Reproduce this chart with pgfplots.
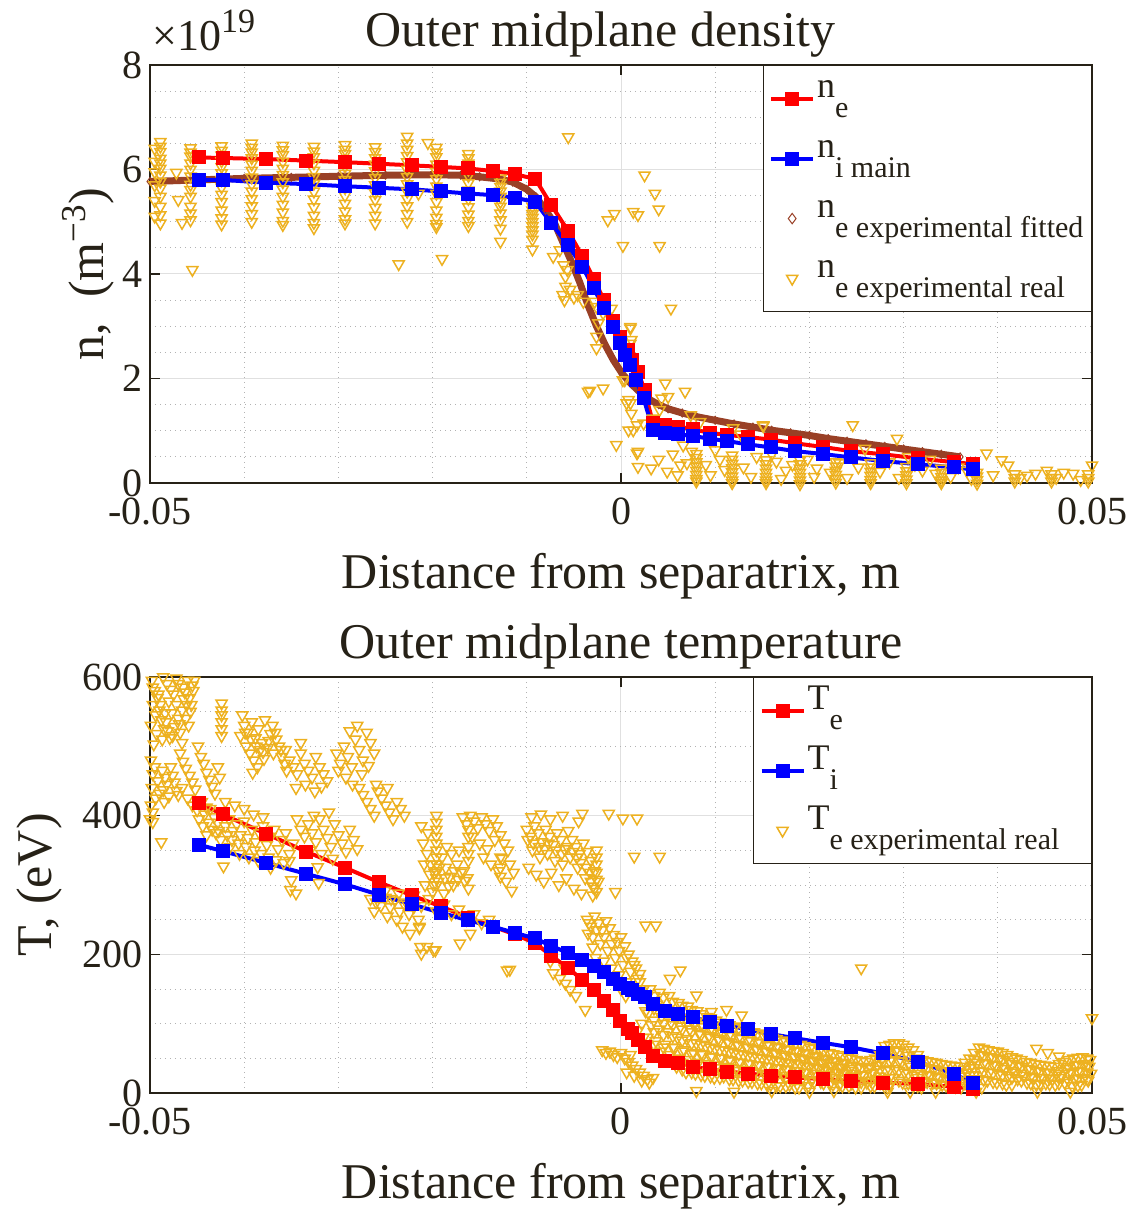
\documentclass[border=0pt]{standalone}
\usepackage{fontspec}
\setmainfont{Liberation Serif}
\usepackage{pgfplots}
\pgfplotsset{compat=1.18}
\definecolor{txt}{rgb}{0.15,0.13,0.09}
\definecolor{orng}{rgb}{0.929,0.694,0.125}
\definecolor{brn}{rgb}{0.6,0.25,0.15}
\newcommand{\sub}[1]{\raisebox{-10pt}{\fontsize{15}{15}\selectfont #1}}
\pgfplotsset{
 myaxis/.style={
  scale only axis, width=471pt,
  xmin=-0.05, xmax=0.05, xtick={-0.05,0,0.05}, xticklabels={-0.05,0,0.05},
  scaled x ticks=false, scaled y ticks=false,
  minor x tick num=4,
  grid=both, major grid style={line width=0.5pt, black!12}, minor grid style={line width=0.5pt, black!30, dotted},
  axis line style={line width=0.8pt, txt},
  tick style={line width=0.8pt, txt}, major tick length=5pt, minor tick length=0pt,
  tick align=inside, xtick pos=both, ytick pos=both, xticklabel pos=lower, yticklabel pos=left,
  ticklabel style={font=\fontsize{20}{20}\selectfont, text=txt},
  xticklabel style={yshift=-4pt},
  /pgf/number format/assume math mode=true,
  label style={font=\fontsize{25}{25}\selectfont, text=txt},
  title style={font=\fontsize{25}{25}\selectfont, text=txt},
  every axis title shift=0pt,
  xlabel style={at={(axis description cs:0.5,0)}, anchor=base, yshift=-52.5pt},
  clip=false,
  legend style={font=\fontsize{18}{18}\selectfont, text=txt, draw=txt, line width=0.6pt, fill=white,
    at={(1,1)}, anchor=north east, cells={anchor=west},
    nodes={inner sep=1pt, text height=13pt, text depth=14pt}, row sep=1pt, inner xsep=3pt, inner ysep=2pt},
  legend image code/.code={\draw[mark repeat=2,mark phase=2,#1] plot coordinates {(0pt,0pt) (10.5pt,0pt) (21pt,0pt)};},
 },
 ln/.style={line width=2pt, mark=square*, mark size=2.5pt, mark options={solid}},
 sc/.style={only marks, mark=triangle, mark size=3.2pt, orng, mark options={rotate=180, line width=0.75pt, fill=none}},
}
\begin{document}
\begin{tikzpicture}
\path[use as bounding box] (-75pt,241.5pt) rectangle (493pt,-365pt);
% ---------------- top axis
\begin{axis}[myaxis, at={(0pt,0pt)}, anchor=south west, height=209pt,
  ymin=0, ymax=8, ytick={0,2,4,6,8}, minor y tick num=3,
  xlabel={Distance from separatrix, m},
  ylabel={n,\ \ (m\textsuperscript{−3})},
  ylabel style={at={(axis description cs:-0.0658,0.5)}, anchor=center},
  title={Outer midplane density},
  title style={at={(axis description cs:0.478,1)}, anchor=base, yshift=9pt},
]
% fitted
\addplot[forget plot, brn, line width=3.5pt, mark=diamond, mark size=2pt, mark options={line width=0.5pt}] coordinates {
(-0.0500,5.77)(-0.0450,5.80)(-0.0400,5.83)(-0.0350,5.85)(-0.0300,5.87)(-0.0250,5.89)(-0.0200,5.90)(-0.0170,5.89)(-0.0150,5.86)(-0.0130,5.82)(-0.0115,5.76)(-0.0100,5.62)(-0.0090,5.47)(-0.0080,5.22)(-0.0070,4.95)(-0.0062,4.62)(-0.0053,4.25)(-0.0044,3.85)(-0.0035,3.40)(-0.0026,3.00)(-0.0017,2.65)(-0.0008,2.35)(0.0001,2.10)(0.0010,1.91)(0.0020,1.74)(0.0030,1.60)(0.0040,1.50)(0.0050,1.42)(0.0065,1.34)(0.0080,1.27)(0.0100,1.20)(0.0120,1.13)(0.0140,1.07)(0.0160,1.01)(0.0180,0.96)(0.0200,0.91)(0.0220,0.85)(0.0240,0.80)(0.0260,0.75)(0.0280,0.70)(0.0300,0.65)(0.0320,0.60)(0.0340,0.55)(0.0360,0.50)
};
% real
\addplot[forget plot, sc] coordinates {
(-0.0489,6.53)(-0.0489,6.44)(-0.0489,6.34)(-0.0489,6.21)(-0.0489,6.12)(-0.0489,6.02)(-0.0489,5.89)(-0.0489,5.77)(-0.0489,5.64)(-0.0489,5.48)(-0.0489,5.29)(-0.0489,5.13)(-0.0489,4.97)
(-0.0495,6.40)(-0.0495,6.15)(-0.0495,5.95)(-0.0495,5.70)(-0.0495,5.40)(-0.0495,5.10)
(-0.0457,6.41)(-0.0457,6.33)(-0.0457,6.25)(-0.0457,6.12)(-0.0457,6.00)(-0.0457,5.87)(-0.0457,5.71)(-0.0457,5.61)(-0.0457,5.48)(-0.0457,5.29)(-0.0457,5.16)(-0.0457,5.03)
(-0.0455,4.08)(-0.0472,5.94)(-0.0470,5.42)(-0.0466,4.98)
(-0.0424,6.45)(-0.0424,6.36)(-0.0424,6.27)(-0.0424,6.16)(-0.0424,6.05)(-0.0424,5.93)(-0.0424,5.80)(-0.0424,5.66)(-0.0424,5.52)(-0.0424,5.38)(-0.0424,5.22)(-0.0424,5.07)(-0.0424,4.95)
(-0.0392,6.50)(-0.0392,6.42)(-0.0392,6.33)(-0.0392,6.22)(-0.0392,6.10)(-0.0392,5.98)(-0.0392,5.85)(-0.0392,5.72)(-0.0392,5.58)(-0.0392,5.44)(-0.0392,5.30)(-0.0392,5.15)(-0.0392,5.00)
(-0.0359,6.46)(-0.0359,6.37)(-0.0359,6.28)(-0.0359,6.15)(-0.0359,6.02)(-0.0359,5.90)(-0.0359,5.76)(-0.0359,5.62)(-0.0359,5.48)(-0.0359,5.33)(-0.0359,5.18)(-0.0359,5.02)(-0.0359,4.94)
(-0.0326,6.44)(-0.0326,6.35)(-0.0326,6.24)(-0.0326,6.12)(-0.0326,5.98)(-0.0326,5.86)(-0.0326,5.73)(-0.0326,5.58)(-0.0326,5.43)(-0.0326,5.28)(-0.0326,5.12)(-0.0326,4.98)(-0.0326,4.88)
(-0.0293,6.47)(-0.0293,6.38)(-0.0293,6.30)(-0.0293,6.18)(-0.0293,6.06)(-0.0293,5.92)(-0.0293,5.80)(-0.0293,5.65)(-0.0293,5.50)(-0.0293,5.35)(-0.0293,5.20)(-0.0293,5.05)(-0.0293,4.97)
(-0.0261,6.43)(-0.0261,6.34)(-0.0261,6.22)(-0.0261,6.10)(-0.0261,5.97)(-0.0261,5.84)(-0.0261,5.70)(-0.0261,5.55)(-0.0261,5.42)(-0.0261,5.27)(-0.0261,5.12)(-0.0261,4.97)
(-0.0227,6.63)(-0.0227,6.50)(-0.0227,6.38)(-0.0227,6.26)(-0.0227,6.14)(-0.0227,6.00)(-0.0227,5.86)(-0.0227,5.72)(-0.0227,5.58)(-0.0227,5.44)(-0.0227,5.30)(-0.0227,5.15)(-0.0227,5.00)
(-0.0236,4.19)(-0.0205,6.51)(-0.0215,5.54)
(-0.0196,6.42)(-0.0196,6.33)(-0.0196,6.24)(-0.0196,6.10)(-0.0196,5.96)(-0.0196,5.82)(-0.0196,5.68)(-0.0196,5.54)(-0.0196,5.38)(-0.0196,5.22)(-0.0196,5.08)(-0.0196,4.96)(-0.0196,4.90)(-0.0190,4.29)
(-0.0162,6.30)(-0.0162,6.22)(-0.0162,6.12)(-0.0162,6.00)(-0.0162,5.88)(-0.0162,5.74)(-0.0162,5.60)(-0.0162,5.44)(-0.0162,5.28)(-0.0162,5.14)(-0.0162,5.02)(-0.0162,4.92)
(-0.0128,5.83)(-0.0128,5.75)(-0.0128,5.67)(-0.0128,5.58)(-0.0128,5.48)(-0.0128,5.38)(-0.0128,5.29)(-0.0128,5.16)(-0.0128,5.03)(-0.0128,4.87)(-0.0128,4.62)
(-0.0094,5.29)(-0.0094,5.22)(-0.0094,5.15)(-0.0094,5.08)(-0.0094,5.00)(-0.0094,4.92)(-0.0094,4.84)(-0.0094,4.76)(-0.0094,4.66)(-0.0094,4.47)
(-0.0072,4.33)(-0.0065,4.46)(-0.0061,4.17)(-0.0059,3.95)(-0.0059,3.76)(-0.0057,4.08)(-0.0062,3.60)(-0.0060,3.50)(-0.0054,3.70)(-0.0050,3.55)(-0.0046,3.60)(-0.0040,3.47)
(-0.0028,3.47)(-0.0019,3.25)(-0.0008,2.99)(-0.0026,2.58)(-0.0026,3.37)(-0.0024,3.06)(-0.0026,2.80)(-0.0010,3.34)(0.0010,2.96)(0.0010,2.67)(0.0011,2.74)(0.0010,2.99)
(0.0004,1.97)(0.0002,1.97)(0.0008,1.59)(0.0010,1.53)(0.0011,1.33)(0.0008,1.01)(0.0013,1.01)(0.0017,1.11)(0.0024,1.14)(0.0034,1.24)(0.0041,1.40)(0.0043,1.62)(0.0050,1.65)
(-0.0035,1.75)(-0.0033,1.77)(-0.0019,1.81)(-0.0005,0.73)(0.0047,1.91)(0.0068,1.75)(0.0074,1.30)(0.0151,1.09)(0.0017,0.57)(0.0018,0.31)(0.0006,1.53)
(-0.0056,6.62)(0.0025,5.89)(0.0036,5.54)(0.0040,5.24)(-0.0014,5.03)(-0.0007,5.15)(0.0013,5.19)(0.0018,5.13)(0.0002,4.54)(0.0041,4.54)(0.0053,3.34)
(0.0080,0.56)(0.0080,0.48)(0.0080,0.40)(0.0080,0.32)(0.0080,0.24)(0.0080,0.16)(0.0080,0.08)(0.0080,0.03)
(0.0118,0.53)(0.0118,0.45)(0.0118,0.37)(0.0118,0.29)(0.0118,0.21)(0.0118,0.13)(0.0118,0.05)(0.0118,0.00)
(0.0154,0.44)(0.0154,0.36)(0.0154,0.28)(0.0154,0.20)(0.0154,0.12)(0.0154,0.05)(0.0154,0.00)
(0.0190,0.44)(0.0190,0.36)(0.0190,0.28)(0.0190,0.20)(0.0190,0.12)(0.0190,0.05)(0.0190,-0.02)
(0.0228,0.40)(0.0228,0.32)(0.0228,0.24)(0.0228,0.16)(0.0228,0.08)(0.0228,0.01)
(0.0265,0.38)(0.0265,0.30)(0.0265,0.22)(0.0265,0.14)(0.0265,0.06)(0.0265,0.00)
(0.0303,0.31)(0.0303,0.23)(0.0303,0.15)(0.0303,0.07)(0.0303,0.00)
(0.0340,0.28)(0.0340,0.20)(0.0340,0.12)(0.0340,0.05)(0.0340,0.00)
(0.0378,0.20)(0.0378,0.13)(0.0378,0.06)(0.0378,-0.01)
(0.0418,0.17)(0.0418,0.10)(0.0418,0.03)
(0.0457,0.17)(0.0457,0.10)(0.0457,0.03)
(0.0496,0.17)(0.0496,0.10)(0.0496,0.03)
(0.0018,0.60)(0.0032,0.28)(0.0049,0.22)(0.0063,0.34)(0.0070,0.38)(0.0084,1.17)(0.0100,0.63)(0.0119,1.05)(0.0127,0.93)(0.0144,0.50)(0.0151,1.11)(0.0165,0.41)(0.0175,0.24)(0.0208,0.28)(0.0232,0.38)(0.0246,1.11)(0.0259,0.66)(0.0293,0.85)(0.0305,0.50)(0.0320,0.24)(0.0334,0.18)(0.0367,0.24)(0.0388,0.57)(0.0404,0.44)(0.0411,0.34)(0.0424,0.10)(0.0431,0.14)(0.0452,0.24)(0.0470,0.20)(0.0480,0.18)(0.0500,0.34)
(0.0040,0.45)(0.0055,0.55)(0.0060,0.15)(0.0066,0.72)(0.0075,0.60)(0.0090,0.35)(0.0095,0.15)(0.0105,0.45)(0.0110,0.25)(0.0130,0.30)(0.0138,0.12)(0.0160,0.55)(0.0170,0.08)(0.0182,0.35)(0.0198,0.45)(0.0205,0.12)(0.0215,0.58)(0.0222,0.20)(0.0240,0.10)(0.0252,0.30)(0.0275,0.22)(0.0285,0.40)(0.0295,0.10)(0.0312,0.35)(0.0328,0.45)(0.0350,0.12)(0.0358,0.30)(0.0372,0.08)(0.0395,0.15)(0.0440,0.18)(0.0462,0.10)(0.0488,0.06)
};
% ne
\addplot[forget plot, red, ln] coordinates {
(-0.0448,6.23)(-0.0423,6.22)(-0.0377,6.20)(-0.0334,6.17)(-0.0293,6.14)(-0.0257,6.11)(-0.0222,6.08)(-0.0191,6.05)(-0.0162,6.02)(-0.0136,5.97)(-0.0113,5.91)(-0.0091,5.82)(-0.0074,5.32)(-0.0056,4.82)(-0.0041,4.34)(-0.0029,3.91)(-0.0018,3.50)(-0.0009,3.10)(-0.0001,2.80)(0.0007,2.55)(0.0012,2.35)(0.0018,2.13)(0.0025,1.78)(0.0034,1.14)(0.0047,1.11)(0.0061,1.08)(0.0076,1.03)(0.0094,0.96)(0.0113,0.92)(0.0135,0.88)(0.0159,0.83)(0.0185,0.76)(0.0214,0.69)(0.0244,0.61)(0.0278,0.55)(0.0315,0.47)(0.0353,0.40)(0.0374,0.36)
};
% ni
\addplot[forget plot, blue, ln] coordinates {
(-0.0448,5.80)(-0.0423,5.80)(-0.0377,5.75)(-0.0334,5.72)(-0.0293,5.68)(-0.0257,5.65)(-0.0222,5.62)(-0.0191,5.58)(-0.0162,5.54)(-0.0136,5.51)(-0.0113,5.46)(-0.0091,5.38)(-0.0074,4.97)(-0.0056,4.55)(-0.0041,4.14)(-0.0029,3.73)(-0.0018,3.34)(-0.0009,2.98)(-0.0001,2.67)(0.0004,2.45)(0.0010,2.26)(0.0016,1.97)(0.0024,1.62)(0.0034,1.01)(0.0047,0.96)(0.0061,0.93)(0.0076,0.90)(0.0094,0.85)(0.0113,0.80)(0.0135,0.74)(0.0159,0.68)(0.0185,0.61)(0.0214,0.555)(0.0244,0.49)(0.0278,0.42)(0.0315,0.36)(0.0353,0.30)(0.0374,0.26)
};
\addlegendimage{red, ln}
\addlegendentry{n\sub{e}}
\addlegendimage{blue, ln}
\addlegendentry{n\sub{i main}}
\addlegendimage{only marks, brn, mark=diamond, mark size=2.6pt, mark options={line width=0.5pt}}
\addlegendentry{n\sub{e experimental fitted}}
\addlegendimage{sc}
\addlegendentry{n\sub{e experimental real}}
\node[anchor=base west, text=txt, font=\fontsize{22}{22}\selectfont, inner sep=0pt] at ([xshift=1pt, yshift=7pt]axis description cs:0,1) {×10\raisebox{9pt}{\fontsize{17}{17}\selectfont 19}};
\end{axis}
% ---------------- bottom axis
\begin{axis}[myaxis, at={(0pt,-305pt)}, anchor=south west, height=208pt,
  ymin=0, ymax=600, ytick={0,200,400,600}, minor y tick num=3,
  xlabel={Distance from separatrix, m},
  ylabel={T, (eV)},
  ylabel style={at={(axis description cs:-0.1168,0.5)}, anchor=center},
  title={Outer midplane temperature},
  title style={at={(axis description cs:0.5,1)}, anchor=base, yshift=9.5pt},
]
\addplot[forget plot, sc] coordinates {
(-0.0498,595)(-0.0495,580)(-0.0492,570)(-0.0497,560)(-0.0490,552)(-0.0494,545)(-0.0488,538)(-0.0499,530)(-0.0485,525)(-0.0493,518)(-0.0487,510)(-0.0496,503)(-0.0482,590)(-0.0478,582)(-0.0475,575)(-0.0480,565)(-0.0472,560)(-0.0477,548)(-0.0470,540)(-0.0483,535)(-0.0474,528)(-0.0468,520)(-0.0479,512)(-0.0466,505)(-0.0470,590)(-0.0465,585)(-0.0460,595)(-0.0463,578)(-0.0458,570)(-0.0455,588)(-0.0461,560)(-0.0454,580)(-0.0457,550)(-0.0462,540)(-0.0459,530)(-0.0466,552)(-0.0472,598)(-0.0486,600)
(-0.0497,585)(-0.0491,575)(-0.0489,560)(-0.0484,548)(-0.0481,522)(-0.0476,515)(-0.0469,532)(-0.0464,568)(-0.0456,560)(-0.0453,595)
(-0.0499,480)(-0.0495,470)(-0.0497,460)(-0.0492,450)(-0.0498,440)(-0.0490,432)(-0.0494,425)(-0.0499,415)(-0.0487,465)(-0.0484,455)(-0.0482,445)(-0.0486,437)(-0.0480,428)(-0.0478,470)(-0.0476,458)(-0.0474,448)(-0.0472,436)(-0.0497,405)(-0.0500,395)(-0.0485,420)(-0.0488,362)(-0.0497,391)
(-0.0424,562)(-0.0424,552)(-0.0424,545)(-0.0424,535)(-0.0424,525)(-0.0424,515)
(-0.0468,490)(-0.0465,478)(-0.0462,468)(-0.0458,458)(-0.0455,448)(-0.0452,438)(-0.0449,500)(-0.0446,485)(-0.0443,475)(-0.0440,462)(-0.0437,452)(-0.0434,442)(-0.0431,432)(-0.0428,470)(-0.0426,455)(-0.0460,425)(-0.0455,415)(-0.0450,408)(-0.0445,420)(-0.0440,412)(-0.0466,440)(-0.0470,430)
(-0.0448,395)(-0.0442,402)(-0.0438,390)(-0.0434,380)(-0.0427,378)(-0.0418,372)(-0.0413,365)(-0.0406,360)(-0.0398,355)(-0.0389,350)(-0.0382,345)(-0.0374,340)(-0.0366,336)(-0.0358,332)
(-0.0400,530)(-0.0396,520)(-0.0392,535)(-0.0388,512)(-0.0385,525)(-0.0381,505)(-0.0378,538)(-0.0375,498)(-0.0372,518)(-0.0369,490)(-0.0366,510)(-0.0363,500)(-0.0360,485)(-0.0357,475)(-0.0398,500)(-0.0394,490)(-0.0390,480)(-0.0386,470)(-0.0383,495)(-0.0379,482)(-0.0404,515)(-0.0402,545)(-0.0370,530)(-0.0355,465)(-0.0391,462)
(-0.0399,520)(-0.0393,510)(-0.0387,500)(-0.0380,492)(-0.0374,508)(-0.0367,520)(-0.0361,495)
(-0.0436,410)(-0.0432,398)(-0.0428,390)(-0.0424,405)(-0.0420,385)(-0.0416,395)(-0.0412,378)(-0.0408,388)(-0.0404,372)(-0.0400,392)(-0.0396,368)(-0.0392,380)(-0.0388,362)(-0.0384,375)(-0.0380,385)(-0.0376,358)(-0.0372,370)(-0.0368,380)(-0.0364,352)(-0.0360,365)(-0.0356,375)(-0.0352,345)(-0.0348,360)(-0.0430,375)(-0.0425,365)(-0.0415,355)(-0.0405,345)(-0.0395,340)(-0.0385,335)(-0.0372,325)(-0.0420,420)(-0.0410,415)(-0.0400,410)(-0.0390,402)(-0.0380,398)(-0.0444,385)(-0.0440,372)
(-0.0356,495)(-0.0352,480)(-0.0348,470)(-0.0344,460)(-0.0340,490)(-0.0336,475)(-0.0332,465)(-0.0328,455)(-0.0324,485)(-0.0320,470)(-0.0316,460)(-0.0312,450)(-0.0345,440)(-0.0335,445)(-0.0325,435)(-0.0318,442)(-0.0340,505)
(-0.0302,490)(-0.0298,475)(-0.0294,500)(-0.0290,485)(-0.0286,470)(-0.0282,510)(-0.0278,495)(-0.0274,480)(-0.0270,520)(-0.0266,505)(-0.0262,490)(-0.0292,455)(-0.0285,445)(-0.0275,460)(-0.0268,472)(-0.0300,465)(-0.0288,522)(-0.0280,530)
(-0.0344,395)(-0.0340,380)(-0.0336,370)(-0.0332,388)(-0.0328,375)(-0.0324,362)(-0.0320,395)(-0.0316,380)(-0.0312,368)(-0.0308,355)(-0.0304,388)(-0.0300,372)(-0.0296,360)(-0.0292,348)(-0.0288,380)(-0.0284,365)(-0.0280,352)(-0.0330,350)(-0.0318,345)(-0.0306,338)(-0.0326,400)(-0.0310,405)
(-0.0422,327)(-0.0350,307)(-0.0351,293)(-0.0345,288)(-0.0322,326)(-0.0321,303)(-0.0352,335)(-0.0212,201)(-0.0199,206)(-0.0206,211)(-0.0171,216)(-0.0224,230)(-0.0214,240)
(-0.0278,440)(-0.0274,430)(-0.0270,420)(-0.0266,410)(-0.0262,400)(-0.0258,435)(-0.0254,425)(-0.0250,415)(-0.0246,405)(-0.0242,395)(-0.0238,420)(-0.0234,410)(-0.0230,400)(-0.0260,445)(-0.0248,440)
(-0.0266,280)(-0.0260,275)(-0.0255,270)(-0.0250,282)(-0.0245,268)(-0.0240,278)(-0.0235,262)(-0.0230,272)(-0.0225,258)(-0.0220,268)(-0.0215,250)(-0.0262,262)(-0.0248,255)(-0.0238,250)
(-0.0196,400)(-0.0196,390)(-0.0196,380)(-0.0196,370)(-0.0196,360)(-0.0196,350)(-0.0196,340)(-0.0196,330)(-0.0196,320)(-0.0196,310)(-0.0196,300)
(-0.0210,360)(-0.0206,345)(-0.0202,330)(-0.0198,318)(-0.0194,305)(-0.0190,340)(-0.0186,325)(-0.0182,312)(-0.0178,300)(-0.0174,330)(-0.0170,318)(-0.0166,306)(-0.0162,295)(-0.0208,300)(-0.0200,290)(-0.0188,288)(-0.0180,345)(-0.0172,350)(-0.0185,355)(-0.0205,375)(-0.0212,385)
(-0.0209,330)(-0.0203,315)(-0.0199,300)(-0.0193,325)(-0.0187,310)(-0.0183,298)(-0.0177,320)(-0.0173,308)(-0.0167,320)(-0.0163,310)
(-0.0168,398)(-0.0164,388)(-0.0160,400)(-0.0156,392)(-0.0152,382)(-0.0148,398)(-0.0144,388)(-0.0140,378)(-0.0136,395)(-0.0132,385)(-0.0128,372)(-0.0124,360)(-0.0120,350)(-0.0158,370)(-0.0150,360)(-0.0142,352)(-0.0134,365)(-0.0146,340)(-0.0138,330)(-0.0130,320)(-0.0126,338)(-0.0118,330)(-0.0114,318)(-0.0122,305)(-0.0116,292)
(-0.0162,380)(-0.0162,370)(-0.0162,355)(-0.0162,345)(-0.0162,335)(-0.0128,340)(-0.0128,325)(-0.0128,312)
(-0.0100,380)(-0.0096,370)(-0.0092,385)(-0.0088,375)(-0.0084,362)(-0.0080,380)(-0.0076,370)(-0.0072,358)(-0.0068,375)(-0.0064,365)(-0.0060,352)(-0.0056,378)(-0.0052,365)(-0.0048,355)(-0.0044,345)(-0.0040,360)(-0.0036,348)(-0.0032,335)(-0.0028,320)(-0.0024,305)(-0.0094,350)(-0.0086,340)(-0.0078,345)(-0.0070,335)(-0.0062,330)(-0.0054,340)(-0.0046,325)(-0.0038,310)(-0.0030,298)(-0.0026,290)(-0.0098,325)(-0.0090,315)(-0.0082,305)(-0.0074,318)(-0.0066,300)(-0.0058,310)(-0.0050,295)(-0.0042,288)
(-0.0099,365)(-0.0093,360)(-0.0087,355)(-0.0081,352)(-0.0077,360)(-0.0069,350)(-0.0063,345)(-0.0057,355)(-0.0051,348)(-0.0047,340)(-0.0043,332)(-0.0037,325)(-0.0033,318)
(-0.0095,398)(-0.0085,402)(-0.0075,395)(-0.0062,400)(-0.0045,392)
(-0.0026,350)(-0.0026,340)(-0.0026,330)(-0.0026,318)(-0.0026,308)
(-0.0250,292)(-0.0244,280)(-0.0236,288)(-0.0228,275)(-0.0220,285)(-0.0212,270)(-0.0204,280)(-0.0196,262)(-0.0188,272)(-0.0180,258)(-0.0172,265)(-0.0164,250)(-0.0156,258)(-0.0148,245)(-0.0140,250)(-0.0232,240)(-0.0214,238)
(-0.0213,211)(-0.0197,206)(-0.0160,230)(-0.0121,177)(-0.0118,178)
(-0.0036,250)(-0.0032,240)(-0.0028,255)(-0.0024,245)(-0.0020,235)(-0.0016,248)(-0.0012,238)(-0.0008,228)(-0.0004,218)(0.0000,225)(0.0004,212)(0.0008,200)(0.0012,190)(0.0016,180)(0.0020,172)(-0.0030,225)(-0.0022,215)(-0.0014,205)(-0.0006,195)(0.0002,185)(0.0010,175)(0.0018,165)(-0.0018,190)(-0.0010,180)(-0.0002,170)(0.0006,160)(0.0014,150)(0.0022,142)
(-0.0034,245)(-0.0026,235)(-0.0018,225)(-0.0010,215)(-0.0002,205)(0.0006,195)(0.0014,185)(0.0020,160)(0.0024,150)(0.0028,140)(0.0030,128)(0.0026,118)(0.0022,100)(0.0018,90)(0.0024,80)(0.0028,70)
(-0.0035,230)(-0.0030,210)(-0.0027,195)(-0.0032,185)(-0.0032,305)(-0.0028,295)(-0.0030,285)(0.0000,150)(0.0005,140)(-0.0004,160)
(-0.0072,173)(-0.0065,165)(-0.0054,149)(-0.0048,140)(-0.0038,120)(-0.0075,190)(-0.0060,180)(-0.0059,158)
(-0.0041,403)(-0.0013,403)(0.0002,396)(0.0017,396)(0.0014,341)(0.0041,341)(0.0026,242)(0.0037,242)(-0.0006,290)
(-0.0020,62)(-0.0016,58)(-0.0012,60)(-0.0008,55)(-0.0004,52)(0.0000,58)(0.0004,50)(0.0008,45)(0.0012,40)(0.0016,35)(0.0020,30)(0.0024,25)(0.0028,20)(0.0006,30)(0.0014,25)(0.0022,18)(0.0030,15)(0.0034,22)(0.0010,55)
(0.0063,177)(0.0052,165)(0.0080,141)(0.0096,117)(0.0112,120)(0.0128,112)
(0.0031,150)(0.0034,132)(0.0029,115)(0.0032,98)(0.0028,80)
(0.0041,145)(0.0038,128)(0.0043,110)(0.0040,92)(0.0037,75)(0.0042,60)
(0.0051,140)(0.0048,120)(0.0053,102)(0.0050,88)(0.0047,70)(0.0052,55)
(0.0061,130)(0.0058,112)(0.0063,96)(0.0060,80)(0.0057,65)(0.0062,50)(0.0059,38)
(0.0071,125)(0.0068,108)(0.0073,92)(0.0070,78)(0.0067,62)(0.0072,48)(0.0069,30)
(0.0081,118)(0.0078,100)(0.0083,86)(0.0080,72)(0.0077,58)(0.0082,44)(0.0079,28)
(0.0091,110)(0.0088,95)(0.0093,82)(0.0090,68)(0.0087,55)(0.0092,42)(0.0089,25)
(0.0101,105)(0.0098,90)(0.0103,78)(0.0100,64)(0.0097,52)(0.0102,40)(0.0099,22)
(0.0111,100)(0.0108,86)(0.0113,74)(0.0110,62)(0.0107,50)(0.0112,38)(0.0109,24)
(0.0121,96)(0.0118,82)(0.0123,70)(0.0120,58)(0.0117,46)(0.0122,35)(0.0119,20)
(0.0131,92)(0.0128,78)(0.0133,66)(0.0130,55)(0.0127,44)(0.0132,33)(0.0129,18)
(0.0141,88)(0.0138,75)(0.0143,64)(0.0140,52)(0.0137,42)(0.0142,30)(0.0139,16)
(0.0151,84)(0.0148,72)(0.0153,60)(0.0150,50)(0.0147,40)(0.0152,28)(0.0149,14)
(0.0161,80)(0.0158,68)(0.0163,58)(0.0160,48)(0.0157,38)(0.0162,26)(0.0159,12)
(0.0171,76)(0.0168,65)(0.0173,55)(0.0170,45)(0.0167,36)(0.0172,25)(0.0169,10)
(0.0181,72)(0.0178,62)(0.0183,52)(0.0180,43)(0.0177,34)(0.0182,22)(0.0179,12)
(0.0191,70)(0.0188,60)(0.0193,50)(0.0190,42)(0.0187,32)(0.0192,20)(0.0189,8)
(0.0201,66)(0.0198,56)(0.0203,47)(0.0200,38)(0.0197,30)(0.0202,18)(0.0199,10)
(0.0211,62)(0.0208,52)(0.0213,44)(0.0210,36)(0.0207,28)(0.0212,16)
(0.0221,58)(0.0218,48)(0.0223,40)(0.0220,32)(0.0217,24)(0.0222,14)
(0.0231,55)(0.0228,45)(0.0233,37)(0.0230,30)(0.0227,22)(0.0232,12)
(0.0241,52)(0.0238,42)(0.0243,35)(0.0240,28)(0.0237,20)(0.0242,10)
(0.0250,48)(0.0252,38)(0.0248,28)(0.0251,18)(0.0249,8)
(0.0260,45)(0.0262,35)(0.0258,25)(0.0261,15)
(0.0270,50)(0.0272,40)(0.0268,30)(0.0271,20)(0.0269,10)
(0.0280,68)(0.0282,58)(0.0278,45)(0.0281,32)(0.0279,20)(0.0283,8)
(0.0290,72)(0.0292,62)(0.0288,48)(0.0291,35)(0.0289,22)
(0.0300,70)(0.0302,58)(0.0298,45)(0.0301,30)(0.0299,15)
(0.0310,62)(0.0312,50)(0.0308,38)(0.0311,25)(0.0309,12)
(0.0320,48)(0.0322,38)(0.0318,28)(0.0321,18)(0.0319,8)
(0.0330,45)(0.0332,35)(0.0328,25)(0.0331,15)
(0.0340,42)(0.0342,32)(0.0338,22)(0.0341,12)
(0.0350,40)(0.0352,30)(0.0348,20)(0.0351,10)
(0.0360,38)(0.0362,28)(0.0358,18)(0.0361,8)
(0.0370,50)(0.0372,40)(0.0368,30)(0.0371,20)(0.0369,10)
(0.0380,66)(0.0382,55)(0.0378,44)(0.0381,32)(0.0379,20)(0.0383,8)
(0.0390,62)(0.0392,52)(0.0388,42)(0.0391,30)(0.0389,18)
(0.0400,60)(0.0402,50)(0.0398,40)(0.0401,28)(0.0399,15)
(0.0410,55)(0.0412,45)(0.0408,35)(0.0411,25)(0.0409,12)
(0.0420,50)(0.0422,40)(0.0418,30)(0.0421,20)
(0.0430,45)(0.0432,35)(0.0428,25)(0.0431,15)
(0.0440,42)(0.0442,32)(0.0438,22)(0.0441,12)
(0.0450,40)(0.0452,30)(0.0448,22)(0.0451,14)
(0.0460,38)(0.0462,28)(0.0458,20)(0.0461,12)
(0.0470,45)(0.0472,35)(0.0468,25)(0.0471,15)
(0.0480,50)(0.0482,40)(0.0478,30)(0.0481,20)(0.0479,10)
(0.0490,52)(0.0492,42)(0.0488,32)(0.0491,22)(0.0489,12)
(0.0498,48)(0.0497,38)(0.0499,28)(0.0496,18)
(0.0035,140)(0.0035,122)(0.0035,105)(0.0035,88)(0.0035,70)
(0.0045,138)(0.0045,118)(0.0045,100)(0.0045,84)(0.0045,66)(0.0045,50)
(0.0055,132)(0.0055,115)(0.0055,98)(0.0055,82)(0.0055,66)(0.0055,48)
(0.0065,126)(0.0065,108)(0.0065,92)(0.0065,76)(0.0065,60)(0.0065,44)(0.0065,34)
(0.0075,120)(0.0075,104)(0.0075,88)(0.0075,72)(0.0075,56)(0.0075,40)(0.0075,30)
(0.0085,114)(0.0085,98)(0.0085,84)(0.0085,70)(0.0085,56)(0.0085,40)(0.0085,26)
(0.0095,108)(0.0095,92)(0.0095,80)(0.0095,66)(0.0095,52)(0.0095,38)(0.0095,24)
(0.0105,102)(0.0105,88)(0.0105,76)(0.0105,62)(0.0105,50)(0.0105,36)(0.0105,22)
(0.0115,98)(0.0115,84)(0.0115,72)(0.0115,60)(0.0115,48)(0.0115,36)(0.0115,20)
(0.0125,94)(0.0125,80)(0.0125,68)(0.0125,56)(0.0125,44)(0.0125,32)(0.0125,18)
(0.0135,90)(0.0135,76)(0.0135,65)(0.0135,54)(0.0135,42)(0.0135,30)(0.0135,16)
(0.0145,86)(0.0145,73)(0.0145,62)(0.0145,51)(0.0145,40)(0.0145,28)(0.0145,14)
(0.0155,82)(0.0155,70)(0.0155,59)(0.0155,49)(0.0155,38)(0.0155,26)(0.0155,12)
(0.0165,78)(0.0165,67)(0.0165,56)(0.0165,46)(0.0165,36)(0.0165,24)(0.0165,10)
(0.0175,74)(0.0175,63)(0.0175,53)(0.0175,44)(0.0175,34)(0.0175,22)(0.0175,10)
(0.0185,71)(0.0185,61)(0.0185,51)(0.0185,42)(0.0185,32)(0.0185,20)(0.0185,8)
(0.0195,68)(0.0195,58)(0.0195,48)(0.0195,40)(0.0195,30)(0.0195,18)
(0.0205,64)(0.0205,54)(0.0205,45)(0.0205,36)(0.0205,28)(0.0205,16)
(0.0215,60)(0.0215,50)(0.0215,42)(0.0215,34)(0.0215,26)(0.0215,14)
(0.0225,56)(0.0225,46)(0.0225,38)(0.0225,30)(0.0225,22)(0.0225,12)
(0.0235,53)(0.0235,44)(0.0235,36)(0.0235,28)(0.0235,20)(0.0235,10)
(0.0245,50)(0.0245,40)(0.0245,32)(0.0245,24)(0.0245,14)
(0.0255,46)(0.0255,36)(0.0255,26)(0.0255,16)(0.0255,8)
(0.0265,48)(0.0265,38)(0.0265,28)(0.0265,18)(0.0265,10)
(0.0275,55)(0.0275,44)(0.0275,34)(0.0275,24)(0.0275,14)
(0.0285,70)(0.0285,60)(0.0285,46)(0.0285,34)(0.0285,22)(0.0285,10)
(0.0295,72)(0.0295,60)(0.0295,46)(0.0295,32)(0.0295,18)
(0.0305,66)(0.0305,54)(0.0305,42)(0.0305,28)(0.0305,14)
(0.0315,55)(0.0315,44)(0.0315,34)(0.0315,22)(0.0315,10)
(0.0325,46)(0.0325,36)(0.0325,26)(0.0325,16)
(0.0335,44)(0.0335,34)(0.0335,24)(0.0335,14)
(0.0345,41)(0.0345,31)(0.0345,21)(0.0345,11)
(0.0355,39)(0.0355,29)(0.0355,19)(0.0355,9)
(0.0365,44)(0.0365,34)(0.0365,24)(0.0365,14)
(0.0375,58)(0.0375,48)(0.0375,36)(0.0375,26)(0.0375,14)
(0.0385,64)(0.0385,54)(0.0385,43)(0.0385,31)(0.0385,19)
(0.0395,61)(0.0395,51)(0.0395,41)(0.0395,29)(0.0395,16)
(0.0405,58)(0.0405,48)(0.0405,38)(0.0405,26)(0.0405,14)
(0.0415,52)(0.0415,42)(0.0415,32)(0.0415,22)(0.0415,12)
(0.0425,48)(0.0425,38)(0.0425,28)(0.0425,18)
(0.0435,44)(0.0435,34)(0.0435,24)(0.0435,14)
(0.0445,41)(0.0445,31)(0.0445,22)(0.0445,13)
(0.0455,39)(0.0455,29)(0.0455,21)(0.0455,13)
(0.0465,42)(0.0465,32)(0.0465,22)(0.0465,14)
(0.0475,48)(0.0475,38)(0.0475,28)(0.0475,18)
(0.0485,51)(0.0485,41)(0.0485,31)(0.0485,21)(0.0485,11)
(0.0495,50)(0.0495,40)(0.0495,30)(0.0495,20)
(0.0255,180)(0.0500,108)(0.0441,64)(0.0453,58)(0.0465,53)
(0.0283,2)(0.0307,2)(0.0334,2)(0.0377,2)(0.0442,2)(0.0477,2)(0.0080,3)(0.0120,2)(0.0160,3)(0.0200,2)(0.0226,3)
};
% Te
\addplot[forget plot, red, ln] coordinates {
(-0.0448,418)(-0.0423,402)(-0.0377,374)(-0.0334,348)(-0.0293,325)(-0.0257,304)(-0.0222,285)(-0.0191,269)(-0.0162,253)(-0.0136,240)(-0.0113,229)(-0.0091,216)(-0.0074,198)(-0.0056,180)(-0.0041,163)(-0.0029,148)(-0.0018,133)(-0.0009,120)(-0.0001,104)(0.0007,93)(0.0012,86)(0.0018,77)(0.0025,67)(0.0034,54)(0.0047,46)(0.0061,43)(0.0076,38)(0.0094,34)(0.0113,31)(0.0135,28)(0.0159,25)(0.0185,22.6)(0.0214,20)(0.0244,17.5)(0.0278,15)(0.0315,13)(0.0353,9)(0.0374,6)
};
% Ti
\addplot[forget plot, blue, ln] coordinates {
(-0.0448,358)(-0.0423,349)(-0.0377,332)(-0.0334,316)(-0.0293,301)(-0.0257,286)(-0.0222,272)(-0.0191,260)(-0.0162,249)(-0.0136,240)(-0.0113,231)(-0.0091,223)(-0.0074,212)(-0.0056,202)(-0.0041,192)(-0.0029,183)(-0.0018,174)(-0.0009,165)(-0.0001,157)(0.0007,152)(0.0012,148)(0.0018,143)(0.0025,138)(0.0034,129)(0.0047,119)(0.0061,114)(0.0076,109)(0.0094,103)(0.0113,97)(0.0135,92)(0.0159,85)(0.0185,79)(0.0214,72.5)(0.0244,66)(0.0278,57)(0.0315,45)(0.0353,28)(0.0374,14)
};
\addlegendimage{red, ln}
\addlegendentry{T\sub{e}}
\addlegendimage{blue, ln}
\addlegendentry{T\sub{i}}
\addlegendimage{sc}
\addlegendentry{T\sub{e experimental real}\hspace*{12pt}}
\end{axis}
\end{tikzpicture}
\end{document}
